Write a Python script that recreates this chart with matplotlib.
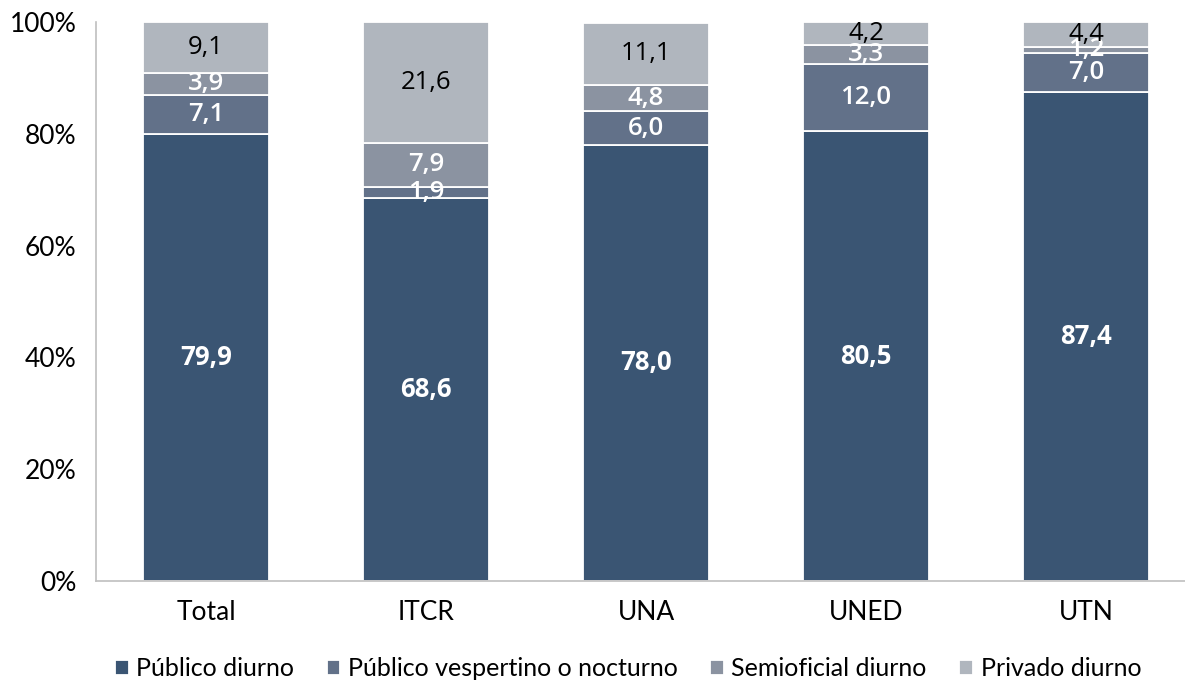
import matplotlib.pyplot as plt
import numpy as np
from matplotlib.ticker import FuncFormatter

categorias = ["Total", "ITCR", "UNA", "UNED", "UTN"]
series = ["Público diurno", "Público vespertino o nocturno", "Semioficial diurno", "Privado diurno"]
publico_diurno = [79.9, 68.6, 78.0, 80.5, 87.4]
publico_vespertino = [7.1, 1.9, 6.0, 12.0, 7.0]
semioficial = [3.9, 7.9, 4.8, 3.3, 1.2]
privado = [9.1, 21.6, 11.1, 4.2, 4.4]

colores = ["#3a5573", "#627189", "#8b93a1", "#b0b6be"]
color_texto = ["white", "white", "white", "black"]
peso_texto = ["bold", "semibold", "semibold", "normal"]

plt.rcParams['font.family'] = ['Lato', 'DejaVu Sans']

fig = plt.figure(figsize=(11.85, 6.85), dpi=100)
ax = fig.add_axes([96 / 1185, 104 / 685, 1100 / 1185, 559 / 685])

x = np.arange(len(categorias))
base = np.zeros(len(categorias))
for i, vals in enumerate([publico_diurno, publico_vespertino, semioficial, privado]):
    vals = np.array(vals)
    ax.bar(x, vals, 0.57, bottom=base, color=colores[i], edgecolor="white",
           linewidth=1.3, label=series[i])
    for xi, b, v in zip(x, base, vals):
        ax.text(xi, b + v / 2, f"{v:.1f}".replace(".", ","), ha="center", va="center",
                color=color_texto[i], fontsize=18.5, fontweight=peso_texto[i],
                family=['Open Sans', 'DejaVu Sans'])
    base = base + vals

ax.set_xlim(-0.5, 4.5)
ax.set_ylim(0, 100)
ax.set_yticks([0, 20, 40, 60, 80, 100])
ax.yaxis.set_major_formatter(FuncFormatter(lambda v, p: f"{v:.0f}%"))
ax.set_xticks(x)
ax.set_xticklabels(categorias)
ax.tick_params(axis="both", length=0, labelsize=19, colors="black")
ax.tick_params(axis="y", pad=14)
ax.tick_params(axis="x", pad=14)
for s in ["top", "right"]:
    ax.spines[s].set_visible(False)
for s in ["left", "bottom"]:
    ax.spines[s].set_color("#bfbfbf")
    ax.spines[s].set_linewidth(1.2)

fig.legend(loc="lower center", bbox_to_anchor=(0.530, -0.026), ncol=4, frameon=False,
           fontsize=18, handlelength=0.55, handleheight=0.55, handletextpad=0.3,
           columnspacing=1.3)

fig.savefig("out.png", dpi=100)
